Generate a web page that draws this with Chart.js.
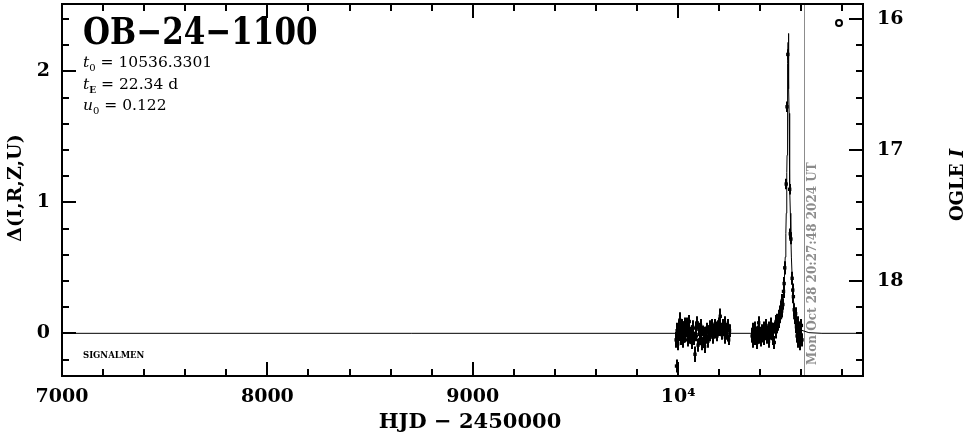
<!DOCTYPE html>
<html><head><meta charset="utf-8">
<script src="https://cdn.jsdelivr.net/npm/chart.js@4.4.1/dist/chart.umd.min.js"></script>
<style>html,body{margin:0;padding:0;background:#fff}canvas{display:block}</style>
</head><body>
<canvas id="c" width="966" height="434"></canvas>
<script>
// ---- data ----
const obsHJD = [
 9990,9992,9995,9998,10002,10005,10008,10011,10014,10018,10021,10025,10028,10032,10035,10039,10043,10046,10050,10054,
 10058,10062,10066,10070,10074,10078,10082,10085,10089,10093,10097,10101,10105,10109,10113,10117,10121,10125,10129,10133,
 10137,10141,10145,10149,10153,10157,10161,10165,10169,10173,10177,10181,10185,10189,10193,10197,10201,10205,10209,10213,
 10217,10222,10226,10230,10234,10238,10242,10246,10250,
 10360,10363,10366,10369,10372,10376,10380,10384,10388,10392,10396,10400,10404,10408,10412,10416,10420,10424,10428,10432,
 10436,10440,10444,10448,10452,10456,10460,10464,10468,10471,10474,10477,10480,10483,10486,10489,10492,10495,10498,10501,
 10504,10507,10510,10513,10516,10519,10526,10530,10534,10543,10546,10549,10555,10558,10561,10565,10568,10572,10576,10579,
 10582,10585,10588,10591,10594,10597,10600,10603
];
const obsDelta = [
 -0.05,-0.25,0.02,-0.08,0.05,-0.02,0.10,0.03,-0.04,0.06,0.00,-0.06,0.04,0.08,-0.02,0.02,0.07,-0.05,0.03,0.09,
 -0.03,0.01,-0.07,0.05,0.00,-0.04,-0.16,0.04,-0.02,0.08,-0.09,0.03,-0.05,0.06,-0.01,-0.08,0.02,-0.04,-0.10,0.01,
 -0.03,0.04,-0.06,0.00,0.05,-0.02,0.03,0.07,-0.03,0.02,0.06,0.00,0.04,-0.02,0.05,0.02,0.07,0.13,0.03,-0.01,
 0.06,0.02,0.08,-0.03,0.04,0.00,0.06,-0.05,0.02,
 -0.02,0.03,-0.06,0.01,-0.04,0.04,-0.01,-0.07,0.02,0.08,-0.03,0.01,-0.05,0.03,-0.02,0.05,-0.04,0.00,0.06,-0.03,
 0.02,-0.06,0.04,-0.01,0.07,0.01,-0.04,0.03,-0.07,0.05,0.01,0.09,0.04,0.10,0.06,0.13,0.09,0.16,0.12,0.20,
 0.17,0.25,0.22,0.32,0.38,0.50,1.14,1.73,2.13,1.10,0.76,0.72,0.42,0.33,0.28,0.18,0.12,0.15,0.05,-0.02,
 0.08,-0.06,0.02,-0.08,0.04,-0.03,0.06,-0.05
];
const obsErr = [
 0.06,0.05,0.06,0.05,0.05,0.04,0.06,0.05,0.05,0.05,0.04,0.05,0.05,0.04,0.05,0.04,0.05,0.05,0.04,0.05,
 0.05,0.04,0.05,0.05,0.04,0.05,0.06,0.05,0.04,0.05,0.05,0.05,0.04,0.05,0.04,0.05,0.04,0.05,0.05,0.04,
 0.05,0.04,0.05,0.04,0.05,0.04,0.05,0.04,0.05,0.04,0.05,0.04,0.05,0.04,0.05,0.04,0.05,0.06,0.05,0.04,
 0.05,0.04,0.05,0.05,0.04,0.05,0.05,0.04,0.05,
 0.05,0.05,0.05,0.04,0.05,0.05,0.04,0.05,0.04,0.05,0.05,0.04,0.05,0.04,0.05,0.04,0.05,0.04,0.05,0.05,
 0.04,0.05,0.05,0.04,0.05,0.04,0.05,0.05,0.05,0.04,0.05,0.05,0.04,0.05,0.04,0.05,0.05,0.05,0.04,0.05,
 0.05,0.05,0.04,0.05,0.05,0.05,0.04,0.04,0.04,0.04,0.04,0.04,0.05,0.05,0.05,0.05,0.05,0.05,0.05,0.05,
 0.05,0.05,0.05,0.05,0.05,0.05,0.05,0.05
];
const modelHJD = [7000,10400,10436.33,10476.33,10496.33,10506.33,10511.33,10516.33,10521.33,10524.33,10526.33,10528.33,10529.33,10530.33,
 10531.33,10532.33,10533.33,10534.33,10535.33,10536.33,10537.33,10538.33,10539.33,10540.33,10541.33,10542.33,10543.33,10544.33,
 10546.33,10548.33,10551.33,10556.33,10561.33,10566.33,10576.33,10596.33,10636.33,10700,10900];
const modelDelta = [0,0,0.005,0.026,0.086,0.174,0.255,0.381,0.582,0.761,0.917,1.111,1.228,1.360,
 1.510,1.680,1.867,2.059,2.222,2.290,2.222,2.059,1.867,1.680,1.510,1.360,1.228,1.111,
 0.917,0.761,0.582,0.381,0.255,0.174,0.086,0.026,0.005,0,0];
const xTicks = [7000,8000,9000,10000];
const xTickLabels = ['7000','8000','9000','10\u2074'];
const yTicks = [0,1,2];
const magTicks = [16,17,18];
const baselineMag = 18.4;
const nowHJD = 10612.35;
const eventName = 'OB\u221224\u22121100';
const paramT0 = '10536.3301', paramTE = '22.34 d', paramU0 = '0.122';
const nowText = 'Mon Oct 28 20:27:48 2024 UT';

// ---- chart ----
Chart.defaults.color = '#000';
const F = 'DejaVu Serif';
const yMin = -0.326, yMax = 2.515;

const pgplot = {
  id: 'pgplot',
  beforeDatasetsDraw(chart) {
    const {ctx, chartArea: a, scales: {x}} = chart;
    const gx = Math.round(x.getPixelForValue(nowHJD)) + 0.5;
    ctx.save();
    ctx.strokeStyle = '#8c8c8c'; ctx.lineWidth = 1;
    ctx.beginPath(); ctx.moveTo(gx, a.top); ctx.lineTo(gx, a.bottom); ctx.stroke();
    ctx.fillStyle = '#8c8c8c';
    ctx.font = 'bold 12px ' + F;
    ctx.translate(gx + 8, a.bottom - 11);
    ctx.rotate(-Math.PI / 2);
    ctx.textAlign = 'left'; ctx.textBaseline = 'middle';
    ctx.fillText(nowText, 0, 0);
    ctx.restore();
  },
  afterDatasetsDraw(chart) {
    const {ctx, chartArea: a, scales: {x, y, y2}} = chart;
    ctx.save();
    ctx.beginPath(); ctx.rect(a.left, a.top, a.right - a.left, a.bottom - a.top); ctx.clip();
    ctx.strokeStyle = '#000'; ctx.lineWidth = 2;
    ctx.beginPath();
    obsHJD.forEach((t, i) => {
      const px = Math.round(x.getPixelForValue(t));
      ctx.moveTo(px, y.getPixelForValue(obsDelta[i] + obsErr[i]));
      ctx.lineTo(px, y.getPixelForValue(obsDelta[i] - obsErr[i]));
    });
    ctx.stroke();
    ctx.restore();

    // frame
    ctx.save();
    ctx.strokeStyle = '#000'; ctx.lineWidth = 2;
    ctx.strokeRect(a.left, a.top, a.right - a.left, a.bottom - a.top);
    ctx.lineWidth = 2;
    ctx.beginPath();
    for (let v = 7000; v <= 10900; v += 200) {
      const px = Math.round(x.getPixelForValue(v));
      const len = v % 1000 === 0 ? 14 : 7;
      ctx.moveTo(px, a.bottom); ctx.lineTo(px, a.bottom - len);
      ctx.moveTo(px, a.top); ctx.lineTo(px, a.top + len);
    }
    for (let k = -1; k <= 12; k++) {
      const py = Math.round(y.getPixelForValue(k * 0.2));
      const len = k % 5 === 0 ? 14 : 7;
      ctx.moveTo(a.left, py); ctx.lineTo(a.left + len, py);
    }
    for (let k = 80; k <= 93; k++) {
      const py = Math.round(y2.getPixelForValue(k / 5));
      const len = k % 5 === 0 ? 14 : 7;
      ctx.moveTo(a.right, py); ctx.lineTo(a.right - len, py);
    }
    ctx.stroke();

    // legend symbol
    ctx.beginPath(); ctx.lineWidth = 2;
    ctx.arc(839, 23, 3, 0, Math.PI * 2); ctx.stroke();

    // title and parameters
    ctx.fillStyle = '#000';
    ctx.textAlign = 'left'; ctx.textBaseline = 'alphabetic';
    ctx.save();
    ctx.translate(83, 44); ctx.scale(1, 1.22);
    ctx.font = 'bold 31px ' + F;
    ctx.fillText(eventName, 0, 0);
    ctx.restore();
    const rich = (parts, x0, y0) => {
      let cx = x0;
      parts.forEach(p => { ctx.font = p.f; ctx.fillText(p.t, cx, y0 + (p.dy || 0)); cx += ctx.measureText(p.t).width; });
    };
    const fn = '15.5px ' + F, fi = 'italic 15.5px ' + F, fs = '10px ' + F, fsb = 'bold 9px ' + F;
    rich([{t: 't', f: fi}, {t: '0', f: fs, dy: 4}, {t: ' = ' + paramT0, f: fn}], 83, 67);
    rich([{t: 't', f: fi}, {t: 'E', f: fsb, dy: 4}, {t: ' = ' + paramTE, f: fn}], 83, 89);
    rich([{t: 'u', f: fi}, {t: '0', f: fs, dy: 4}, {t: ' = ' + paramU0, f: fn}], 83, 110);

    ctx.font = 'bold 8.5px ' + F;
    ctx.fillText('SIGNALMEN', 83, 358);

    // axis titles
    ctx.font = 'bold 21px ' + F;
    ctx.textAlign = 'center';
    ctx.fillText('HJD \u2212 2450000', 470, 428);
    ctx.save();
    ctx.translate(21, 188); ctx.rotate(-Math.PI / 2);
    ctx.font = 'bold 19px ' + F;
    ctx.fillText('\u0394(I,R,Z,U)', 0, 0);
    ctx.restore();
    ctx.save();
    ctx.translate(963, 185); ctx.rotate(-Math.PI / 2);
    ctx.textAlign = 'left';
    ctx.font = 'bold 18px ' + F;
    const w1 = ctx.measureText('OGLE ').width;
    ctx.font = 'bold italic 18px ' + F;
    const w2 = ctx.measureText('I').width;
    ctx.font = 'bold 18px ' + F;
    ctx.fillText('OGLE ', -(w1 + w2) / 2, 0);
    ctx.font = 'bold italic 18px ' + F;
    ctx.fillText('I', -(w1 + w2) / 2 + w1, 0);
    ctx.restore();
    ctx.restore();
  }
};

const noPad = s => { s.paddingTop = 0; s.paddingBottom = 0; s.paddingLeft = 0; s.paddingRight = 0; };
const tickFont = {family: F, weight: 'bold', size: 19};
new Chart(document.getElementById('c'), {
  type: 'scatter',
  data: {
    datasets: [
      {data: modelHJD.map((t, i) => ({x: t, y: modelDelta[i]})), showLine: true, borderColor: '#000', borderWidth: 1,
       pointRadius: 0, tension: 0, order: 2},
      {data: obsHJD.map((t, i) => ({x: t, y: obsDelta[i]})), showLine: false, pointStyle: 'rect', pointRadius: 2.4,
       backgroundColor: '#000', borderColor: '#000', borderWidth: 0, order: 1}
    ]
  },
  options: {
    responsive: false, animation: false, devicePixelRatio: 1,
    layout: {padding: {top: 1, left: 0, right: 0, bottom: 0}},
    plugins: {legend: {display: false}, tooltip: {enabled: false}},
    scales: {
      x: {type: 'linear', position: 'bottom', min: 7000, max: 10900,
          grid: {display: false, drawTicks: false}, border: {display: false},
          afterBuildTicks: s => { s.ticks = xTicks.map(v => ({value: v})); },
          afterFit: s => { s.height = 58; noPad(s); },
          ticks: {font: tickFont, padding: 10, maxRotation: 0, autoSkip: false,
                  callback: v => xTickLabels[xTicks.indexOf(v)]}},
      y: {type: 'linear', position: 'left', min: yMin, max: yMax,
          grid: {display: false, drawTicks: false}, border: {display: false},
          afterBuildTicks: s => { s.ticks = yTicks.map(v => ({value: v})); },
          afterFit: s => { s.width = 62; noPad(s); },
          ticks: {font: tickFont, padding: 12, callback: v => String(v)}},
      y2: {type: 'linear', position: 'right', reverse: true, min: baselineMag - yMax, max: baselineMag - yMin,
          grid: {display: false, drawTicks: false}, border: {display: false},
          afterBuildTicks: s => { s.ticks = magTicks.map(v => ({value: v})); },
          afterFit: s => { s.width = 103; noPad(s); },
          ticks: {font: tickFont, padding: 14, callback: v => String(v)}}
    }
  },
  plugins: [pgplot]
});
</script>
</body></html>
